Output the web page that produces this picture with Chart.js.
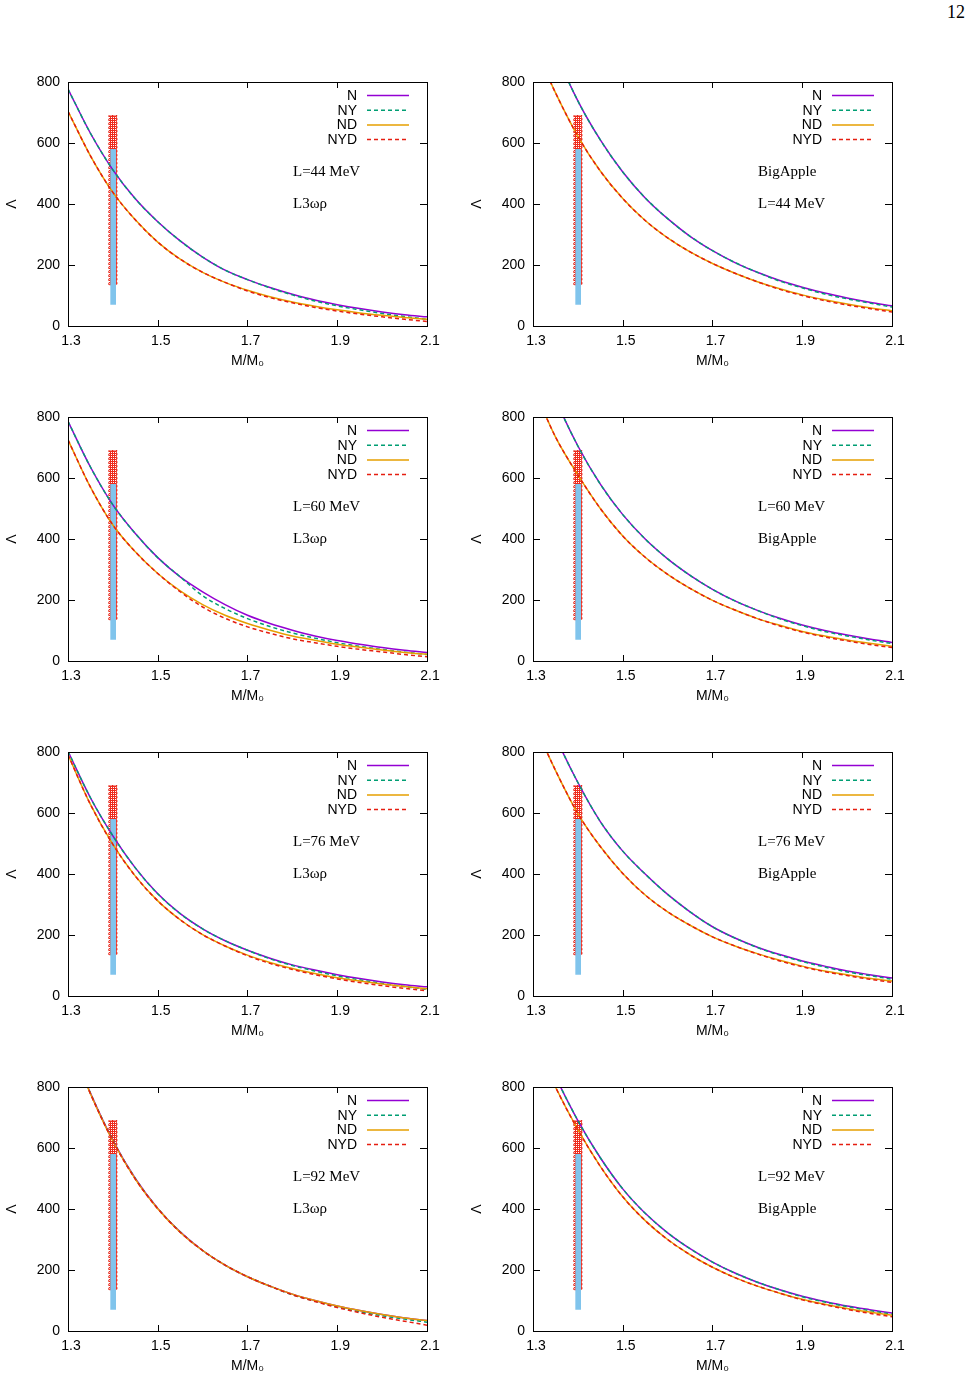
<!DOCTYPE html>
<html>
<head>
<meta charset="utf-8">
<script src="https://cdn.jsdelivr.net/npm/chart.js@4.4.0/dist/chart.umd.min.js"></script>
<style>
  body { margin: 0; background: #fff; width: 972px; height: 1382px; position: relative; overflow: hidden; }
  canvas { position: absolute; }
  #page { position: absolute; right: 7px; top: 2px; font: 18px "Liberation Serif", serif; color: #000; }
</style>
</head>
<body>
<div id="page">12</div>
<script>
// stellar mass grid (M/M0) and axis ticks
const masses = [1.30, 1.35, 1.40, 1.45, 1.50, 1.55, 1.60, 1.65, 1.70, 1.75, 1.80, 1.85, 1.90, 1.95, 2.00, 2.05, 2.10];
const xTicks = [1.3, 1.5, 1.7, 1.9, 2.1];
const yTicks = [0, 200, 400, 600, 800];
const seriesNames = ['N', 'NY', 'ND', 'NYD'];

// GW170817 constraint boxes at 1.4 M0
const redBoxX = [1.391, 1.409];
const redBoxY = [135, 690];
const blueBarX = [1.394, 1.407];
const blueBarY = [70, 580];

// L3wr, L=44
const l3wr44N   = [777, 632, 512, 417, 342, 279, 226, 183, 152, 126, 104, 85, 70, 57, 46, 37, 30];
const l3wr44NY  = [777, 632, 512, 417, 342, 279, 226, 183, 152, 125, 102, 82, 66, 53, 41, 31, 22];
const l3wr44ND  = [704, 558, 438, 348, 275, 219, 176, 143, 117, 96, 79, 65, 53, 43, 35, 28, 22];
const l3wr44NYD = [704, 558, 438, 348, 275, 219, 176, 143, 115, 93, 76, 61, 49, 39, 30, 22, 15];
// BigApple, L=44
const big44N   = [1100, 900, 738, 610, 505, 420, 352, 294, 247, 208, 176, 149, 127, 108, 92, 78, 66];
const big44NY  = [1100, 900, 738, 610, 505, 420, 352, 294, 247, 208, 176, 147, 125, 105, 89, 75, 62];
const big44ND  = [930, 765, 622, 508, 418, 346, 289, 243, 205, 173, 145, 122, 102, 86, 72, 60, 50];
const big44NYD = [930, 765, 622, 508, 418, 346, 289, 243, 205, 173, 145, 120, 100, 83, 69, 57, 46];
// L3wr, L=60
const l3wr60N   = [786, 636, 512, 418, 339, 276, 227, 185, 150, 123, 101, 82, 67, 55, 44, 35, 28];
const l3wr60NY  = [786, 636, 512, 418, 339, 276, 214, 172, 139, 113, 92, 75, 60, 48, 38, 29, 21];
const l3wr60ND  = [725, 570, 446, 358, 287, 230, 185, 150, 123, 101, 82, 68, 55, 45, 36, 28, 22];
const l3wr60NYD = [725, 570, 446, 358, 287, 227, 177, 140, 112, 91, 73, 60, 48, 38, 30, 21, 14];
// BigApple, L=60
const big60N   = [1050, 860, 705, 580, 480, 400, 335, 281, 235, 197, 166, 140, 118, 100, 85, 72, 61];
const big60NY  = [1050, 860, 705, 580, 480, 400, 335, 281, 235, 197, 166, 138, 116, 97, 82, 69, 57];
const big60ND  = [900, 735, 610, 500, 410, 340, 284, 238, 199, 167, 139, 117, 97, 82, 69, 58, 48];
const big60NYD = [900, 735, 610, 500, 410, 340, 284, 238, 199, 167, 139, 115, 95, 79, 66, 54, 44];
// L3wr, L=76
const l3wr76N   = [802, 650, 525, 420, 335, 270, 220, 181, 150, 124, 102, 85, 70, 57, 46, 37, 30];
const l3wr76NY  = [802, 650, 525, 420, 335, 270, 220, 181, 150, 122, 100, 82, 66, 53, 41, 31, 22];
const l3wr76ND  = [791, 628, 497, 393, 312, 250, 201, 164, 134, 110, 90, 74, 60, 49, 39, 31, 24];
const l3wr76NYD = [791, 628, 497, 393, 312, 250, 201, 164, 132, 107, 87, 70, 56, 44, 34, 25, 17];
// BigApple, L=76
const big76N   = [1020, 850, 700, 572, 475, 400, 333, 276, 227, 190, 160, 136, 115, 98, 82, 70, 59];
const big76NY  = [1020, 850, 700, 572, 475, 400, 333, 276, 227, 190, 159, 134, 113, 95, 79, 67, 55];
const big76ND  = [900, 740, 598, 490, 402, 331, 276, 232, 194, 164, 139, 117, 98, 82, 70, 58, 49];
const big76NYD = [900, 740, 598, 490, 402, 331, 276, 232, 194, 164, 138, 115, 96, 80, 67, 55, 45];
// L3wr, L=92
const l3wr92N   = [960, 780, 625, 500, 402, 325, 264, 216, 178, 147, 121, 100, 82, 67, 54, 43, 34];
const l3wr92NY  = [960, 780, 625, 500, 402, 325, 264, 216, 178, 147, 119, 98, 79, 63, 50, 39, 29];
const l3wr92ND  = [960, 778, 623, 498, 401, 324, 264, 216, 178, 147, 121, 100, 82, 67, 54, 43, 34];
const l3wr92NYD = [960, 778, 623, 498, 401, 324, 264, 216, 178, 147, 119, 97, 77, 60, 45, 32, 19];
// BigApple, L=92
const big92N   = [1000, 835, 690, 568, 466, 386, 322, 270, 226, 190, 160, 135, 114, 97, 82, 70, 59];
const big92NY  = [1000, 835, 690, 568, 466, 386, 322, 270, 226, 190, 160, 135, 112, 95, 80, 67, 55];
const big92ND  = [960, 800, 660, 540, 440, 362, 300, 250, 209, 175, 147, 124, 104, 88, 74, 62, 52];
const big92NYD = [960, 800, 660, 540, 440, 362, 300, 250, 209, 175, 147, 124, 102, 86, 71, 58, 47];

const panels = [
  { notes: ['L=44 MeV', 'L3ωρ'],     values: [l3wr44N, l3wr44NY, l3wr44ND, l3wr44NYD] },
  { notes: ['BigApple', 'L=44 MeV'], values: [big44N, big44NY, big44ND, big44NYD] },
  { notes: ['L=60 MeV', 'L3ωρ'],     values: [l3wr60N, l3wr60NY, l3wr60ND, l3wr60NYD] },
  { notes: ['L=60 MeV', 'BigApple'], values: [big60N, big60NY, big60ND, big60NYD] },
  { notes: ['L=76 MeV', 'L3ωρ'],     values: [l3wr76N, l3wr76NY, l3wr76ND, l3wr76NYD] },
  { notes: ['L=76 MeV', 'BigApple'], values: [big76N, big76NY, big76ND, big76NYD] },
  { notes: ['L=92 MeV', 'L3ωρ'],     values: [l3wr92N, l3wr92NY, l3wr92ND, l3wr92NYD] },
  { notes: ['L=92 MeV', 'BigApple'], values: [big92N, big92NY, big92ND, big92NYD] }
];

const colors = ['#9400d3', '#009e73', '#e69f00', '#e51e10'];
const dashes = [[], [4, 3], [], [4, 3]];
const sansFont = "'Liberation Sans', Arial, sans-serif";
const serifFont = "'Liberation Serif', 'Times New Roman', serif";

function checkerPattern() {
  const c = document.createElement('canvas');
  c.width = 4; c.height = 4;
  const g = c.getContext('2d');
  g.fillStyle = '#ee2b1c';
  g.fillRect(0, 0, 4, 4);
  g.fillStyle = '#ffffff';
  g.fillRect(1, 1, 1, 1); g.fillRect(3, 3, 1, 1);
  g.fillRect(1, 3, 1, 1); g.fillRect(3, 1, 1, 1);
  return g.createPattern(c, 'repeat');
}

// frame, inward ticks, key and text labels (gnuplot look)
const decorPlugin = {
  id: 'decor',
  afterDatasetsDraw(chart, args, opts) {
    const ctx = chart.ctx;
    const a = chart.chartArea;
    const xs = chart.scales.x, ys = chart.scales.y;
    ctx.save();
    ctx.strokeStyle = '#000';
    ctx.lineWidth = 1;
    ctx.setLineDash([]);
    ctx.beginPath();
    xTicks.forEach(v => {
      const p = Math.round(xs.getPixelForValue(v)) + 0.5;
      ctx.moveTo(p, a.bottom); ctx.lineTo(p, a.bottom - 6);
      ctx.moveTo(p, a.top); ctx.lineTo(p, a.top + 6);
    });
    yTicks.forEach(v => {
      const p = Math.round(ys.getPixelForValue(v)) + 0.5;
      ctx.moveTo(a.left, p); ctx.lineTo(a.left + 7, p);
      ctx.moveTo(a.right, p); ctx.lineTo(a.right - 7, p);
    });
    ctx.stroke();
    ctx.strokeRect(Math.round(a.left) + 0.5, Math.round(a.top) + 0.5,
      Math.round(a.right - a.left), Math.round(a.bottom - a.top));

    // key
    ctx.font = '14px ' + sansFont;
    ctx.textAlign = 'right';
    ctx.textBaseline = 'middle';
    seriesNames.forEach((name, i) => {
      const y = a.top + 13.5 + i * 14.7;
      ctx.fillStyle = '#000';
      ctx.fillText(name, a.right - 70, y + 0.5);
      ctx.strokeStyle = colors[i];
      ctx.lineWidth = 1.5;
      ctx.setLineDash(dashes[i]);
      ctx.beginPath();
      ctx.moveTo(a.right - 60, y);
      ctx.lineTo(a.right - 18, y);
      ctx.stroke();
    });

    // model labels
    ctx.setLineDash([]);
    ctx.fillStyle = '#000';
    ctx.font = '15px ' + serifFont;
    ctx.textAlign = 'left';
    (opts.lines || []).forEach((t, i) => {
      ctx.fillText(t, a.left + 225, a.top + 90 + i * 32);
    });
    ctx.restore();
  }
};

function makeChart(canvas, panel) {
  const curves = seriesNames.map((name, i) => ({
    label: name,
    data: masses.map((m, k) => ({ x: m, y: panel.values[i][k] })),
    borderColor: colors[i],
    borderDash: dashes[i],
    borderWidth: 1.5,
    pointRadius: 0,
    cubicInterpolationMode: 'monotone',
    fill: false,
    order: 4 - i
  }));
  const blank = 'rgba(0,0,0,0)';
  const bandSets = [
    { label: 'blueTop', data: blueBarX.map(x => ({ x: x, y: blueBarY[1] })),
      borderColor: blank, backgroundColor: '#80c4ec', pointRadius: 0, fill: '+1', order: 5 },
    { label: 'blueBottom', data: blueBarX.map(x => ({ x: x, y: blueBarY[0] })),
      borderColor: blank, pointRadius: 0, fill: false, order: 5 },
    { label: 'redEdge', data: [
        { x: redBoxX[0], y: redBoxY[0] }, { x: redBoxX[0], y: redBoxY[1] },
        { x: redBoxX[1], y: redBoxY[1] }, { x: redBoxX[1], y: redBoxY[0] },
        { x: redBoxX[0], y: redBoxY[0] }],
      borderColor: '#e51e10', borderWidth: 1, borderDash: [2, 2], pointRadius: 0, fill: false, order: 6 },
    { label: 'redTop', data: redBoxX.map(x => ({ x: x, y: redBoxY[1] })),
      borderColor: blank, backgroundColor: checkerPattern(), pointRadius: 0, fill: '+1', order: 7 },
    { label: 'redBottom', data: redBoxX.map(x => ({ x: x, y: redBoxY[0] })),
      borderColor: blank, pointRadius: 0, fill: false, order: 7 }
  ];

  return new Chart(canvas, {
    type: 'line',
    data: { datasets: curves.concat(bandSets) },
    options: {
      responsive: false,
      animation: false,
      events: [],
      layout: { padding: { top: 22, right: 22, left: 0, bottom: 0 } },
      plugins: {
        legend: { display: false },
        tooltip: { enabled: false },
        decor: { lines: panel.notes }
      },
      scales: {
        x: {
          type: 'linear', min: 1.3, max: 2.1,
          afterBuildTicks: s => { s.ticks = xTicks.map(v => ({ value: v })); },
          afterFit: s => { s.height = 50; },
          grid: { display: false, drawTicks: false },
          border: { display: false },
          ticks: { padding: 7, labelOffset: 3, color: '#000', font: { size: 14, family: sansFont },
                   callback: v => v.toFixed(1) },
          title: { display: true, text: 'M/M₀', color: '#000',
                   font: { size: 14, family: sansFont }, padding: { top: 0, bottom: 6 } }
        },
        y: {
          type: 'linear', min: 0, max: 800,
          afterBuildTicks: s => { s.ticks = yTicks.map(v => ({ value: v })); },
          afterFit: s => { s.width = 68; },
          grid: { display: false, drawTicks: false },
          border: { display: false },
          ticks: { padding: 8, color: '#000', font: { size: 14, family: sansFont } },
          title: { display: true, text: 'Λ', color: '#000',
                   font: { size: 14, family: sansFont }, padding: { top: 4, bottom: 0 } }
        }
      }
    },
    plugins: [decorPlugin]
  });
}

const colLeft = [0, 465];
const rowTop = [60, 395, 730, 1065];
panels.forEach((panel, i) => {
  const canvas = document.createElement('canvas');
  canvas.width = 449;
  canvas.height = 316;
  canvas.style.left = colLeft[i % 2] + 'px';
  canvas.style.top = rowTop[Math.floor(i / 2)] + 'px';
  document.body.appendChild(canvas);
  makeChart(canvas, panel);
});
</script>
</body>
</html>
